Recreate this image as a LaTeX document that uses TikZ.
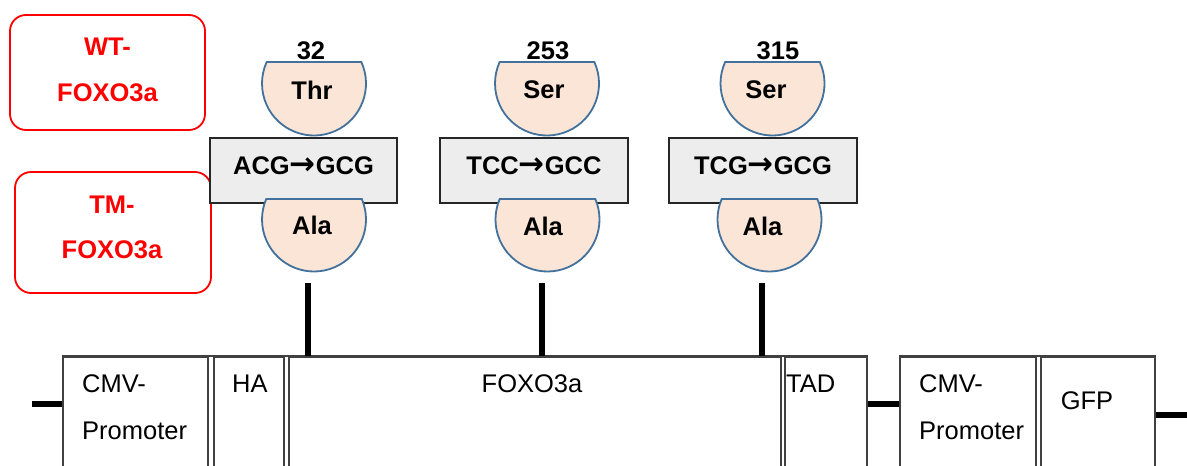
\documentclass[tikz,border=0pt]{standalone}
\usepackage{fontspec}
\setmainfont{Liberation Sans}
\newfontfamily\arrowfont{DejaVu Sans}
\newcommand{\codonarrow}{{\arrowfont\bfseries\fontsize{31}{31}\selectfont →}}
\definecolor{ovalfill}{HTML}{FBE5D6}
\definecolor{ovaledge}{HTML}{41719C}
\definecolor{codonfill}{HTML}{EDEDED}
\definecolor{codonedge}{HTML}{262626}
\definecolor{plasmidedge}{HTML}{404040}
\definecolor{labelred}{HTML}{FF0000}
\begin{document}
\begin{tikzpicture}[x=1pt,y=1pt,
  boldtxt/.style={font=\fontsize{25.5}{30}\selectfont\bfseries, inner sep=0pt, anchor=base},
  plaintxt/.style={font=\fontsize{25.5}{30}\selectfont, inner sep=0pt, anchor=base west},
  redbox/.style={draw=labelred, line width=1.8pt, rounded corners=16pt, inner sep=0pt},
  redtxt/.style={font=\fontsize{25.5}{45.5}\selectfont\bfseries, text=labelred, align=center, inner sep=0pt},
  codon/.style={draw=codonedge, fill=codonfill, line width=1.8pt, inner sep=0pt,
    minimum width=188pt, minimum height=65pt, text height=18pt, text depth=9pt,
    font=\fontsize{25.5}{30}\selectfont\bfseries},
  disc/.style={draw=ovaledge, fill=ovalfill, line width=1.8pt},
  seg/.style={draw=plasmidedge, line width=1.6pt, inner sep=0pt, anchor=north west, minimum height=140pt},
  stem/.style={line width=6.5pt},
  stub/.style={line width=6.5pt}
]
\useasboundingbox (0,0) rectangle (1187,466);
\clip (0,0) rectangle (1187,466);

% red label boxes
\node[redbox, minimum width=195pt, minimum height=115pt] (wtbox) at (107.5,393.5) {};
\node[redtxt] (wtlabel) at (107.5,396) {WT-\\FOXO3a};
\node[redbox, minimum width=196pt, minimum height=121pt] (tmbox) at (113,233.5) {};
\node[redtxt] (tmlabel) at (112,238.5) {TM-\\FOXO3a};

% position numbers
\node[boldtxt] (n32) at (311,406.7) {32};
\node[boldtxt] (n253) at (548,406.7) {253};
\node[boldtxt] (n315) at (778,406.7) {315};

% upper (wild-type) residues
\path[disc] (314,382.5) ++(24.4:52) arc[start angle=24.4, end angle=-204.4, radius=52] -- cycle;
\path[disc] (547,382.5) ++(24.4:52) arc[start angle=24.4, end angle=-204.4, radius=52] -- cycle;
\path[disc] (772.5,382.5) ++(24.4:52) arc[start angle=24.4, end angle=-204.4, radius=52] -- cycle;
\node[boldtxt] (thr) at (312,366.7) {Thr};
\node[boldtxt] (ser1) at (544,367.7) {Ser};
\node[boldtxt] (ser2) at (766,367) {Ser};

% codon boxes
\node[codon, minimum width=187pt] (c1) at (303.5,295.5) {ACG\codonarrow GCG};
\node[codon] (c2) at (534,295.5) {TCC\codonarrow GCC};
\node[codon] (c3) at (763,295.5) {TCG\codonarrow GCG};

% lower (mutant) residues
\path[disc] (314,246.5) ++(23.2:52) arc[start angle=23.2, end angle=-203.2, radius=52] -- cycle;
\path[disc] (547.5,246.5) ++(23.2:52) arc[start angle=23.2, end angle=-203.2, radius=52] -- cycle;
\path[disc] (769.5,246.5) ++(23.2:52) arc[start angle=23.2, end angle=-203.2, radius=52] -- cycle;
\node[boldtxt] (ala1) at (312,231) {Ala};
\node[boldtxt] (ala2) at (543,230) {Ala};
\node[boldtxt] (ala3) at (762.5,230.5) {Ala};

% plasmid segments
\node[seg, minimum width=145pt] (cmv1) at (62,110) {};
\node[seg, minimum width=70pt] (ha) at (213,110) {};
\node[seg, minimum width=492pt] (foxo) at (288,110) {};
\node[seg, minimum width=82pt] (tad) at (784,110) {};
\node[seg, minimum width=136pt] (cmv2) at (899,110) {};
\node[seg, minimum width=114pt] (gfp) at (1040,110) {};
\draw[plasmidedge, line width=1.6pt] (cmv1.north west) -- (tad.north east);
\draw[plasmidedge, line width=1.6pt] (cmv2.north west) -- (gfp.north east);

% segment labels
\node[plaintxt] (cmvtxt1) at (82,73) {CMV-};
\node[plaintxt] (promtxt1) at (82,26) {Promoter};
\node[plaintxt] (hatxt) at (232,73) {HA};
\node[plaintxt, anchor=base] (foxotxt) at (532,73) {FOXO3a};
\node[plaintxt] (tadtxt) at (786,73) {TAD};
\node[plaintxt] (cmvtxt2) at (919,73) {CMV-};
\node[plaintxt] (promtxt2) at (919,26) {Promoter};
\node[plaintxt, anchor=base] (gfptxt) at (1087,56) {GFP};

% stems from mutation sites to FOXO3a
\coordinate (s1) at (308,183);
\coordinate (s2) at (542,183);
\coordinate (s3) at (762,183);
\draw[stem] (s1) -- (s1 |- foxo.north);
\draw[stem] (s2) -- (s2 |- foxo.north);
\draw[stem] (s3) -- (s3 |- foxo.north);

% backbone stubs
\coordinate (lend) at (32,62);
\coordinate (rend) at (1190,51);
\draw[stub] (lend) -- (lend -| cmv1.west);
\draw[stub] (tad.east |- lend) -- (cmv2.west |- lend);
\draw[stub] (gfp.east |- rend) -- (rend);
\end{tikzpicture}
\end{document}
